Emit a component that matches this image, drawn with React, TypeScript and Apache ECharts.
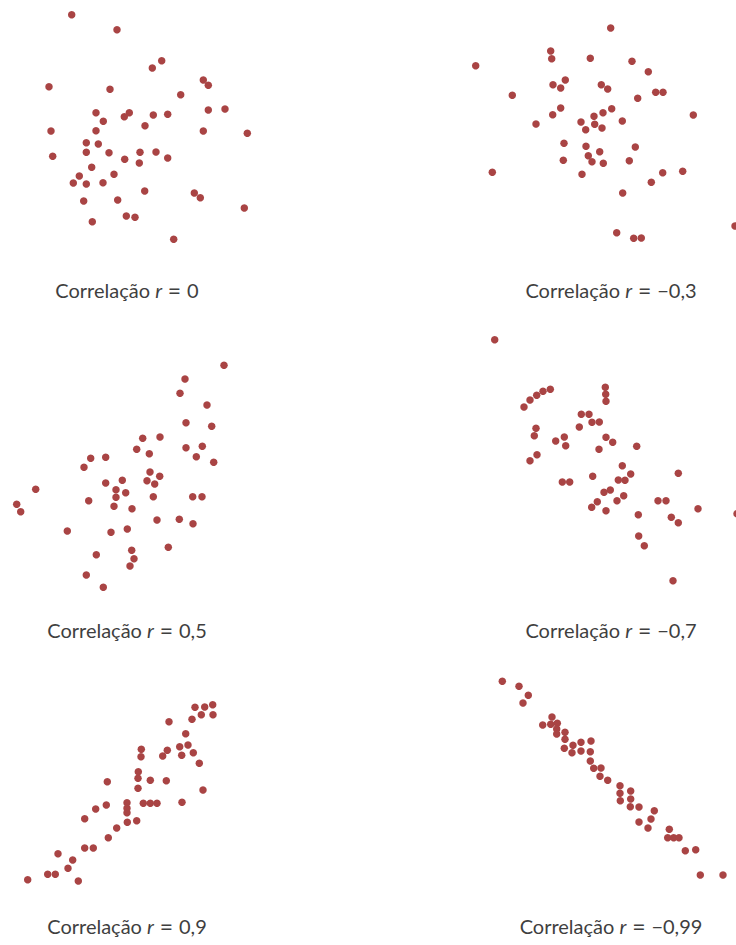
import React, { useEffect, useRef } from "react";
import * as echarts from "echarts";

// Points, in the picture's own pixel units (x right, y down)
const r0: number[][] = [
  [71.7, 14.7], [117, 29.7], [161.7, 60.7], [152.3, 68], [49, 86.7], [110, 89.3], [203.3, 80], [208.3, 85.3],
  [180.7, 94.7], [96, 112.7], [129.3, 112.7], [124.3, 116.7], [153.3, 115], [167.7, 114.3], [208.3, 110], [225, 109],
  [103.3, 121.3], [145, 125.7], [51, 131], [96, 130.7], [203.3, 131], [247.3, 133.3], [86.3, 142.7], [98.3, 144],
  [86.3, 152.3], [109, 152.7], [140, 152.3], [156, 152], [52.7, 156.3], [124.7, 159.3], [139.3, 163], [167.7, 158],
  [91.7, 167.3], [79.3, 176], [114, 174.3], [73.3, 183], [86.3, 184], [103, 182.7], [144.7, 191], [194.3, 193],
  [200.3, 197.7], [83.7, 201], [117.7, 200], [244.3, 208], [126.3, 216], [135, 217.3], [92.3, 221.7], [173.7, 239.3],
];
const rNeg03: number[][] = [
  [610.7, 28], [550.7, 51], [551.7, 58.7], [590.3, 58.3], [475.7, 65.7], [632, 61.3], [648.3, 71.7], [565.3, 80],
  [553, 84.7], [560.7, 88], [601.3, 84.7], [607.7, 89], [655.7, 92.3], [663, 92.3], [512.3, 95.3], [637.7, 98.3],
  [560.7, 108], [552.7, 114.7], [611.7, 108.7], [603, 112.7], [594, 116.3], [693.3, 115], [536, 124], [581, 122],
  [594.7, 124.3], [622.3, 121], [585.7, 129.7], [602, 128], [564, 143.3], [586, 146.3], [635.3, 147], [599.7, 151.7],
  [588.3, 155.7], [563.3, 160.3], [592, 161.7], [603.3, 163.3], [629.3, 160.7], [492.3, 172.3], [582, 174.3], [662.7, 172.7],
  [682.7, 171.3], [651.3, 182.3], [622.7, 193], [735, 226], [616.7, 232.7], [633.7, 238.3], [641.3, 238],
];
const r05: number[][] = [
  [224, 365.3], [185, 379], [180, 393.3], [207, 405], [186, 422.7], [211.7, 426.3], [142.7, 438.3], [160, 437],
  [136.7, 449.3], [149.3, 453.7], [186, 447.7], [202.3, 446.3], [196.3, 456.7], [213.7, 462.3], [90.7, 458.3], [105.7, 457.3],
  [84, 467.3], [150, 472], [159.7, 476.3], [147, 480.7], [154.7, 484], [122.3, 480.3], [105.7, 483], [116, 489.7],
  [125.7, 492.7], [35.7, 489.3], [116, 497.3], [153.3, 496.7], [192.7, 496.7], [202, 496.7], [16.7, 504.3], [20.7, 511.7],
  [88.7, 500.7], [114, 506.3], [132, 508.7], [157, 520], [179.3, 519.3], [193, 523.7], [67.3, 531], [111, 532.3],
  [127.3, 529], [168.3, 547.3], [131.7, 550.3], [96.3, 554.7], [134, 558.7], [130, 566], [86.3, 575], [103.3, 587.3],
];
const rNeg07: number[][] = [
  [494.7, 339.7], [550.3, 389.3], [543, 391.3], [536.7, 395.3], [530, 400], [524, 407], [605.3, 387.3], [605.7, 394.3],
  [606, 401.3], [581.3, 414.3], [589, 414.3], [592, 422.3], [599.3, 422], [579.3, 427], [536, 428.3], [534.3, 435.7],
  [564.3, 437], [555.7, 441], [565.7, 445.7], [606, 437.3], [612.7, 442.3], [636.7, 446.3], [599, 449.3], [537, 454.7],
  [530, 460.7], [622.3, 465.7], [630.7, 474], [678.3, 473.3], [592.7, 476.3], [618.3, 480], [625, 480.3], [562.3, 482],
  [569.7, 482], [610.3, 490], [604, 492.3], [623.7, 495.7], [617, 500.7], [597.3, 501.7], [658, 500.7], [666, 500.7],
  [591.7, 507.3], [606, 510.7], [698, 508.7], [737, 513.7], [638.3, 514.7], [671.3, 517.3], [678.3, 522.7], [638.7, 536],
  [644.3, 545.7], [673, 580.7],
];
const r09: number[][] = [
  [195, 707.3], [204.7, 707], [212.7, 704.7], [201.3, 714.7], [213, 714.7], [192, 719.3], [169, 721.7], [185.7, 733.7],
  [179.7, 746.7], [188, 745], [181.7, 755.3], [193.3, 752.7], [199.3, 763.3], [167.3, 750.3], [162.7, 756], [141.3, 749.3],
  [141, 756.7], [138.3, 771.7], [138, 778.3], [150.3, 780.3], [166.3, 780.7], [107.3, 781.7], [138, 788.3], [203, 790],
  [182, 802.3], [143.3, 803.3], [150.3, 803.3], [157, 803.3], [127, 802.7], [127, 808.3], [127, 812.7], [106.3, 805],
  [95.7, 809], [84.7, 818.7], [127.3, 822.3], [136.7, 820.7], [116.7, 828], [108.3, 837.7], [84.7, 848], [93.3, 848],
  [58, 853.7], [72.7, 860], [68, 868.3], [47.7, 874.3], [55.3, 874.3], [27.7, 879.7], [78.3, 881],
];
const rNeg099: number[][] = [
  [502.3, 681.3], [519, 686.3], [528.3, 695.3], [523, 703], [552, 717], [542.7, 725], [550.7, 724.3], [557.3, 723.3],
  [556.7, 729], [556.7, 734], [565, 732.3], [565, 739.3], [564.3, 748.3], [573, 745.3], [572, 752.7], [581, 742.3],
  [591, 741], [581, 751], [590.3, 751.7], [590.3, 761], [593.7, 768.3], [601, 768], [600, 776.3], [607.7, 780.3],
  [620, 785.7], [620, 793.3], [630.7, 791], [620.3, 800.7], [630.7, 799], [630.3, 806.7], [639, 807], [654.3, 810.7],
  [651, 819], [639, 822], [648, 828], [669.3, 829.3], [667.7, 837.7], [673.7, 837.7], [679, 837.7], [685.3, 850.7],
  [695.7, 849.7], [700.3, 875], [723, 875],
];

const panelData = [r0, rNeg03, r05, rNeg07, r09, rNeg099];
const rValues = ["0", "−0,3", "0,5", "−0,7", "0,9", "−0,99"];

// panel frames: [xmin, xmax, ymin, ymax] in picture units
const frames = [
  [0, 270, 0, 255],
  [460, 736, 10, 250],
  [0, 245, 330, 600],
  [480, 736, 325, 595],
  [0, 245, 685, 895],
  [480, 736, 665, 890],
];
const labelPos = [
  [127, 290], [611, 290], [127, 630], [611, 630], [127, 926], [611, 926],
];

export default function App() {
  const ref = useRef<HTMLDivElement>(null);
  useEffect(() => {
    if (!ref.current) return;
    const chart = echarts.init(ref.current, null, { renderer: "svg" });
    const grids = frames.map((f) => ({
      left: f[0],
      top: f[2],
      width: f[1] - f[0],
      height: f[3] - f[2],
      containLabel: false,
    }));
    const xAxes = frames.map((f, i) => ({
      type: "value",
      gridIndex: i,
      min: f[0],
      max: f[1],
      show: false,
      splitLine: { show: false },
    }));
    const yAxes = frames.map((f, i) => ({
      type: "value",
      gridIndex: i,
      min: f[2],
      max: f[3],
      inverse: true,
      show: false,
      splitLine: { show: false },
    }));
    const series = panelData.map((d, i) => ({
      type: "scatter",
      xAxisIndex: i,
      yAxisIndex: i,
      data: d,
      symbol: "circle",
      symbolSize: 7.5,
      clip: false,
      itemStyle: { color: "#a94444", opacity: 1 },
      silent: true,
    }));
    const txt = { fontFamily: "Lato", fontSize: 20, fill: "#3f3f3f", color: "#3f3f3f" };
    const graphic = rValues.map((rv, i) => ({
      type: "text",
      x: labelPos[i][0],
      y: labelPos[i][1],
      style: {
        text: `{a|Correlação }{i|r}{e| = }{a|${rv}}`,
        align: "center",
        verticalAlign: "middle",
        rich: {
          a: { ...txt },
          i: { ...txt, fontStyle: "italic" },
          e: { ...txt, fontSize: 23 },
        },
      },
    }));
    chart.setOption({
      animation: false,
      backgroundColor: "#ffffff",
      grid: grids,
      xAxis: xAxes,
      yAxis: yAxes,
      series,
      graphic,
    });
    return () => chart.dispose();
  }, []);
  return (
    <div
      ref={ref}
      style={{ position: "absolute", left: 0, top: 0, width: 736, height: 945 }}
    />
  );
}
